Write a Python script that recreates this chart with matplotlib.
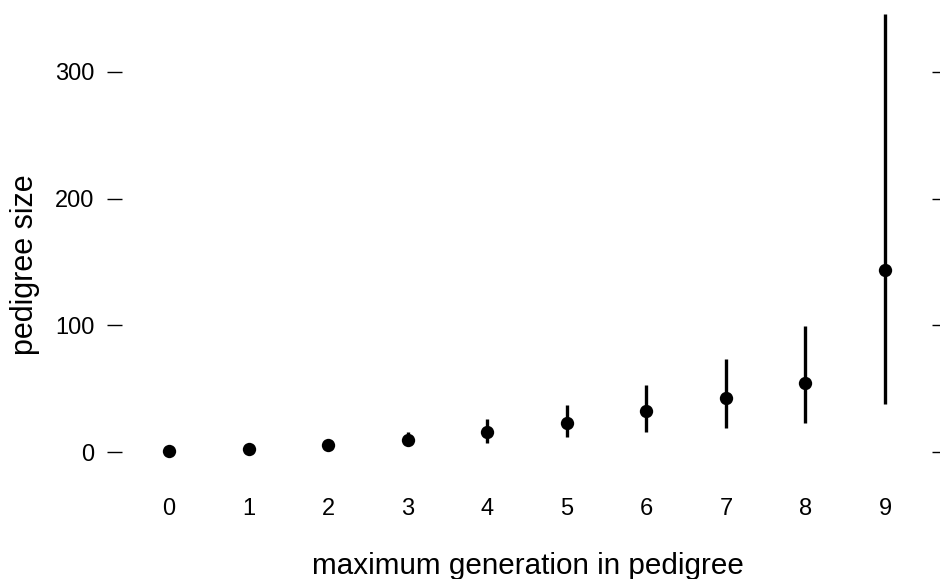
import matplotlib
matplotlib.use("Agg")
import matplotlib.pyplot as plt

plt.rcParams['font.family'] = ['Liberation Sans', 'DejaVu Sans']

generation = [0, 1, 2, 3, 4, 5, 6, 7, 8, 9]
size_mid = [1.0, 2.6, 5.8, 9.7, 16.0, 23.1, 32.6, 42.6, 54.9, 143.5]
size_low = [1.0, 2.6, 5.8, 6.0, 7.3, 12.1, 16.0, 19.4, 23.1, 38.3]
size_high = [1.0, 2.6, 5.8, 16.0, 26.2, 37.3, 53.3, 73.3, 99.5, 345.5]
yticks = [0, 100, 200, 300]

W, H = 940, 579
fig = plt.figure(figsize=(W / 100, H / 100), dpi=100)
ax = fig.add_axes([122 / W, 1 - 462 / H, (932 - 122) / W, (462 - 8) / H])

ax.vlines(generation, size_low, size_high, color='black', linewidth=2.4)
ax.plot(generation, size_mid, 'o', color='black', markersize=9.6, markeredgewidth=0)

ax.set_xlim(-0.59, 9.59)
ax.set_ylim(-7.6, 350.2)
ax.set_xticks(generation)
ax.set_xticklabels([str(g) for g in generation])
ax.set_yticks(yticks)
ax.set_yticklabels([str(t) for t in yticks])

for s in ax.spines.values():
    s.set_visible(False)

ax.tick_params(axis='x', length=0, pad=26, labelsize=17)
ax.tick_params(axis='y', length=10.8, width=1.0, pad=9, labelsize=17,
               right=True, labelright=False, direction='out')

fig.text(528 / W, 1 - 566 / H, 'maximum generation in pedigree', fontsize=21.3,
         ha='center', va='center')
fig.text(25 / W, 1 - 265 / H, 'pedigree size', fontsize=22, rotation=90,
         ha='center', va='center')

fig.savefig('out.png', dpi=100)
